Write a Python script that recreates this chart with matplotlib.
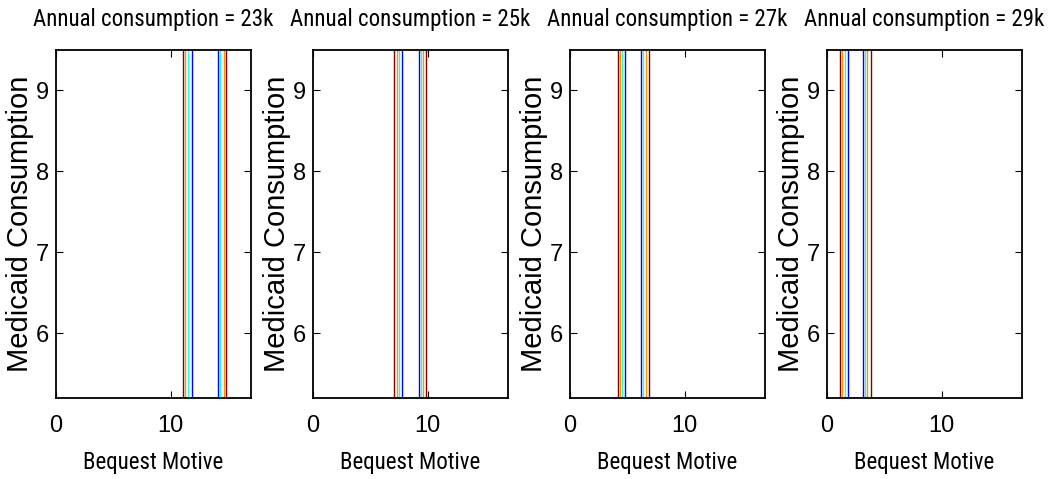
import numpy as np
import matplotlib
matplotlib.use('Agg')
import matplotlib.pyplot as plt
from matplotlib import font_manager

# annual consumption levels (k) and contour line positions on the bequest axis
consumption = [23, 25, 27, 29]
left_lines = [
    [11.1, 11.27, 11.53, 11.83],
    [7.09, 7.3, 7.47, 7.79],
    [4.16, 4.36, 4.56, 4.82],
    [1.13, 1.33, 1.54, 1.8],
]
right_lines = [
    [14.12, 14.3, 14.62, 14.82],
    [9.22, 9.42, 9.59, 9.88],
    [6.19, 6.36, 6.6, 6.89],
    [3.11, 3.29, 3.51, 3.84],
]
# contour levels -> jet colours (high = red, low = blue)
left_levels = [1.0, 0.75, 0.4, 0.12]
right_levels = [0.12, 0.4, 0.75, 1.0]

xticks = [0, 10]
yticks = [6, 7, 8, 9]

# narrow font for title / xlabel if there is one, otherwise a smaller Arial-like one
names = set(f.name for f in font_manager.fontManager.ttflist)
narrow = None
for n in ['Liberation Sans Narrow', 'Roboto Condensed', 'Open Sans Condensed', 'DejaVu Sans Condensed']:
    if n in names:
        narrow = n
        break
if narrow == 'Liberation Sans Narrow' or narrow == 'Roboto Condensed':
    nfam, tsize = [narrow, 'DejaVu Sans'], 16.5
elif narrow is not None:
    nfam, tsize = [narrow, 'DejaVu Sans'], 15
else:
    nfam, tsize = ['Liberation Sans', 'DejaVu Sans'], 14.5

plt.rcParams['font.family'] = ['Liberation Sans', 'DejaVu Sans']

fig = plt.figure(figsize=(10.51, 4.79), dpi=100)
jet = plt.get_cmap('jet')

for i, c in enumerate(consumption):
    ax = fig.add_axes([0.0533 + i * 0.2445, 0.169, 0.1855, 0.727])
    ax.vlines(left_lines[i], 5.2, 9.5, colors=[jet(v) for v in left_levels], lw=1.0)
    ax.vlines(right_lines[i], 5.2, 9.5, colors=[jet(v) for v in right_levels], lw=1.0)
    ax.set_xlim(0, 17)
    ax.set_ylim(5.2, 9.5)
    ax.set_xticks(xticks)
    ax.set_yticks(yticks)
    ax.tick_params(direction='in', top=True, right=True, labelsize=17, length=5)
    ax.tick_params(axis='x', pad=12)
    ax.tick_params(axis='y', pad=5)
    for s in ax.spines.values():
        s.set_linewidth(1.3)
    ax.set_title('Annual consumption = %dk' % c, family=nfam, fontsize=tsize, pad=17)
    ax.set_xlabel('Bequest Motive', family=nfam, fontsize=tsize, labelpad=10)
    ax.set_ylabel('Medicaid Consumption', fontsize=21, labelpad=1)

fig.savefig('out.png', dpi=100)
